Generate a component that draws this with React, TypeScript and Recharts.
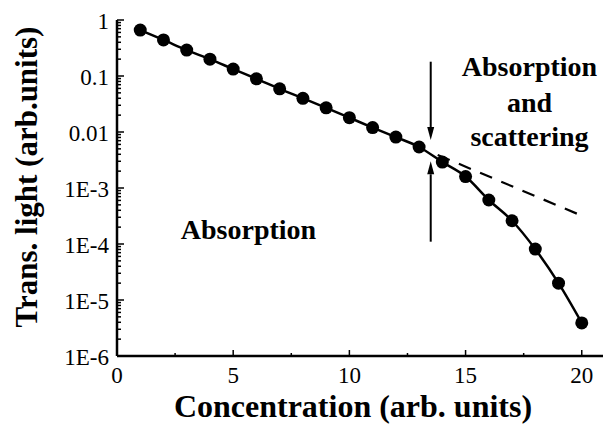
import React from "react";
import {
  ComposedChart,
  Line,
  XAxis,
  YAxis,
  ReferenceLine,
  ReferenceDot,
} from "recharts";

// measured transmission vs. concentration
const concentration = [1, 2, 3, 4, 5, 6, 7, 8, 9, 10, 11, 12, 13, 14, 15, 16, 17, 18, 19, 20];
const transLight = [
  0.66, 0.44, 0.29, 0.2, 0.133, 0.089, 0.059, 0.04, 0.027, 0.018,
  0.012, 0.0081, 0.0054, 0.0029, 0.0016, 6.1e-4, 2.6e-4, 8.1e-5, 2.0e-5, 3.9e-6,
];

// pure-absorption extrapolation (dashed)
const fitConcentration = [13.8, 20];
const fitLight = [0.0039, 3.2e-4];

// axis ticks
const xTicks = [0, 2.5, 5, 7.5, 10, 12.5, 15, 17.5, 20];
const xTickLabels = ["0", "", "5", "", "10", "", "15", "", "20"];
const yMajorTicks = [1, 0.1, 0.01, 1e-3, 1e-4, 1e-5, 1e-6];
const yTickLabels = ["1", "0.1", "0.01", "1E-3", "1E-4", "1E-5", "1E-6"];
const yMinorMantissas = [2, 3, 4, 5, 6, 7, 8, 9];

// arrow marking the onset of scattering
const arrowX = 13.5;
const arrowDown = [0.18, 0.0072];
const arrowUp = [1.1e-4, 0.003];

const mainData = concentration.map((c, i) => ({ c, v: transLight[i] }));
const fitData = fitConcentration.map((c, i) => ({ c, v: fitLight[i] }));

const yTicks: number[] = [...yMajorTicks];
yMajorTicks.slice(1).forEach((d) => {
  yMinorMantissas.forEach((m) => yTicks.push(d * m));
});

const FONT = "'Liberation Serif', 'Times New Roman', serif";

const isMajorY = (v: number) =>
  yMajorTicks.findIndex((t) => Math.abs(Math.log10(t) - Math.log10(v)) < 1e-6);

const YTick = (props: any) => {
  const { x, y, payload } = props;
  const i = isMajorY(payload.value);
  const major = i >= 0;
  return (
    <g>
      <line x1={x} y1={y} x2={x + (major ? 7 : 4)} y2={y} stroke="#000" strokeWidth={1.5} />
      {major && (
        <text x={x - 8} y={y + 9} textAnchor="end" fontFamily={FONT} fontSize={23} fill="#000">
          {yTickLabels[i]}
        </text>
      )}
    </g>
  );
};

const XTick = (props: any) => {
  const { x, y, payload, index } = props;
  const major = payload.value % 5 === 0;
  return (
    <g>
      <line x1={x} y1={y} x2={x} y2={y - (major ? 6 : 3)} stroke="#000" strokeWidth={1.5} />
      {major && (
        <text x={x} y={y + 27} textAnchor="middle" fontFamily={FONT} fontSize={23} fill="#000">
          {xTickLabels[index]}
        </text>
      )}
    </g>
  );
};

const TopTick = (props: any) => {
  const { x, y } = props;
  return <line x1={x} y1={y} x2={x} y2={y + 3} stroke="#000" strokeWidth={1.5} />;
};

const XTitle = () => (
  <text x={353} y={417} textAnchor="middle" fontFamily={FONT} fontWeight="bold" fontSize={32} fill="#000">
    Concentration (arb. units)
  </text>
);

const YTitle = () => (
  <text
    x={37}
    y={177}
    transform="rotate(-90 37 177)"
    textAnchor="middle"
    fontFamily={FONT}
    fontWeight="bold"
    fontSize={31}
    fill="#000"
  >
    Trans. light (arb.units)
  </text>
);

const Arrow = (props: any) => {
  const { x1, y1, x2, y2 } = props;
  const dir = y2 > y1 ? 1 : -1;
  const head = 13;
  const half = 3.5;
  return (
    <g>
      <line x1={x1} y1={y1} x2={x2} y2={y2 - dir * head} stroke="#000" strokeWidth={2} />
      <polygon
        points={`${x2},${y2} ${x2 - half},${y2 - dir * head} ${x2 + half},${y2 - dir * head}`}
        fill="#000"
      />
    </g>
  );
};

const LeftNote = (props: any) => (
  <text x={props.cx} y={props.cy} textAnchor="middle" fontFamily={FONT} fontWeight="bold" fontSize={28} fill="#000">
    Absorption
  </text>
);

const RightNote = (props: any) => (
  <text x={props.cx} y={props.cy} textAnchor="middle" fontFamily={FONT} fontWeight="bold" fontSize={28} fill="#000">
    <tspan x={props.cx} dy={0}>Absorption</tspan>
    <tspan x={props.cx} dy={36}>and</tspan>
    <tspan x={props.cx} dy={34}>scattering</tspan>
  </text>
);

export default function App() {
  return (
    <div
      style={{
        position: "absolute",
        left: 0,
        top: 0,
        width: 603,
        height: 428,
        overflow: "hidden",
        background: "#fff",
      }}
    >
      <ComposedChart
        width={610}
        height={428}
        margin={{ top: 20, right: 5, left: 0, bottom: 0 }}
      >
        <XAxis
          dataKey="c"
          type="number"
          domain={[0, 21]}
          ticks={xTicks}
          interval={0}
          allowDataOverflow
          height={72}
          tickSize={0}
          tickMargin={0}
          tickLine={false}
          axisLine={{ stroke: "#000", strokeWidth: 2.5 }}
          tick={<XTick />}
          label={<XTitle />}
        />
        <XAxis
          xAxisId="top"
          orientation="top"
          type="number"
          domain={[0, 21]}
          ticks={xTicks}
          interval={0}
          allowDataOverflow
          height={0}
          tickSize={0}
          tickMargin={0}
          tickLine={false}
          axisLine={{ stroke: "#000", strokeWidth: 1.5 }}
          tick={<TopTick />}
        />
        <YAxis
          type="number"
          scale="log"
          domain={[1e-6, 1]}
          ticks={yTicks}
          interval={0}
          allowDataOverflow
          width={117}
          tickSize={0}
          tickMargin={0}
          tickLine={false}
          axisLine={{ stroke: "#000", strokeWidth: 2.5 }}
          tick={<YTick />}
          label={<YTitle />}
        />
        <Line
          data={fitData}
          dataKey="v"
          type="linear"
          stroke="#000"
          strokeWidth={2.2}
          strokeDasharray="13 10"
          dot={false}
          activeDot={false}
          isAnimationActive={false}
        />
        <Line
          data={mainData}
          dataKey="v"
          type="monotone"
          stroke="#000"
          strokeWidth={2.5}
          dot={{ r: 6.5, fill: "#000", stroke: "#000", strokeWidth: 0 }}
          activeDot={false}
          isAnimationActive={false}
        />
        <ReferenceLine
          segment={[
            { x: arrowX, y: arrowDown[0] },
            { x: arrowX, y: arrowDown[1] },
          ]}
          shape={Arrow}
        />
        <ReferenceLine
          segment={[
            { x: arrowX, y: arrowUp[0] },
            { x: arrowX, y: arrowUp[1] },
          ]}
          shape={Arrow}
        />
        <ReferenceDot x={5.66} y={1.25e-4} r={0} shape={LeftNote} />
        <ReferenceDot x={17.75} y={0.1} r={0} shape={RightNote} />
      </ComposedChart>
    </div>
  );
}
